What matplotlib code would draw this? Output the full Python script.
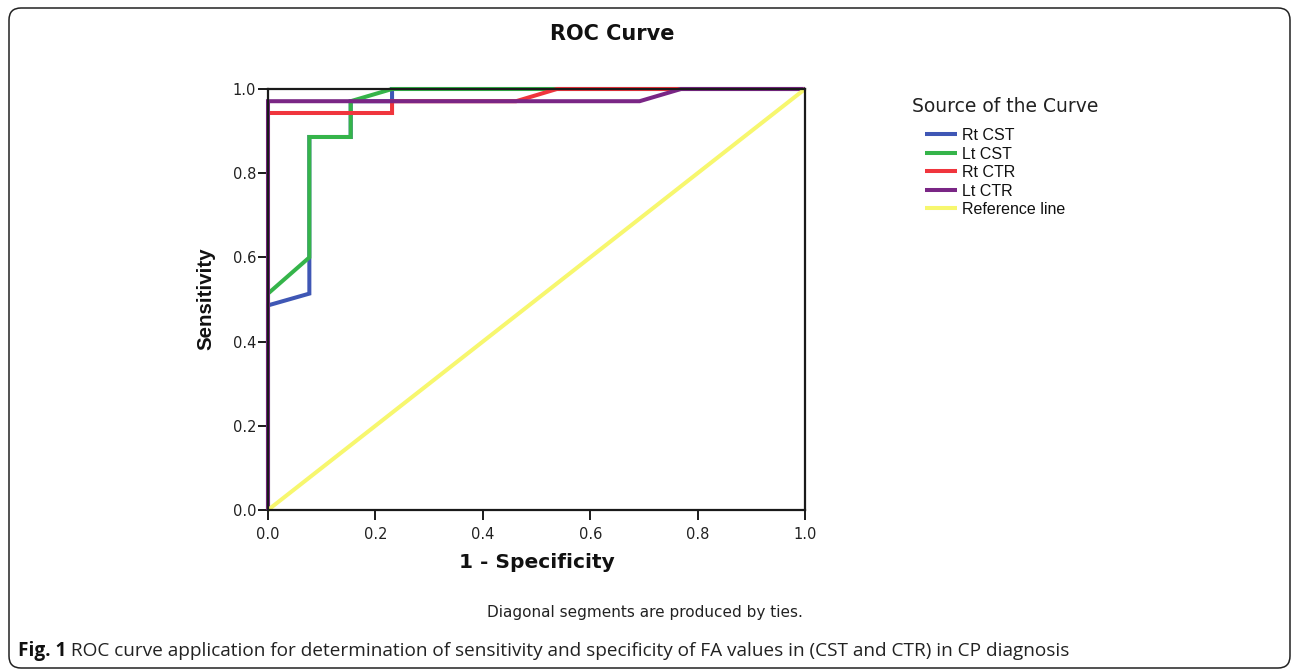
import numpy as np
import matplotlib
matplotlib.use('Agg')
import matplotlib.pyplot as plt
from matplotlib.patches import FancyBboxPatch
from matplotlib.transforms import IdentityTransform

# ROC points (1 - specificity, sensitivity)
rt_cst_fpr = [0.0, 0.0, 0.077, 0.077, 0.154, 0.154, 0.231, 0.231, 1.0]
rt_cst_tpr = [0.0, 0.486, 0.514, 0.886, 0.886, 0.971, 0.971, 1.0, 1.0]

lt_cst_fpr = [0.0, 0.0, 0.077, 0.077, 0.154, 0.154, 0.231, 1.0]
lt_cst_tpr = [0.0, 0.514, 0.600, 0.886, 0.886, 0.971, 1.0, 1.0]

rt_ctr_fpr = [0.0, 0.0, 0.231, 0.231, 0.462, 0.538, 1.0]
rt_ctr_tpr = [0.0, 0.943, 0.943, 0.971, 0.971, 1.0, 1.0]

lt_ctr_fpr = [0.0, 0.0, 0.692, 0.769, 1.0]
lt_ctr_tpr = [0.0, 0.971, 0.971, 1.0, 1.0]

ref_x = [0.0, 1.0]
ref_y = [0.0, 1.0]

labels = ['Rt CST', 'Lt CST', 'Rt CTR', 'Lt CTR', 'Reference line']
colors = ['#3f57b5', '#35b44a', '#f0353d', '#7a2685', '#f7f76e']
ticks = [0.0, 0.2, 0.4, 0.6, 0.8, 1.0]

W, H = 1292, 670


def fx(px):
    return px / W


def fy(py):
    return 1 - py / H


fig = plt.figure(figsize=(W / 100, H / 100), dpi=100)

# rounded frame around the whole figure
frame = FancyBboxPatch((9, 2), 1281, 660, boxstyle='round,pad=0,rounding_size=12',
                       transform=IdentityTransform(), fill=False,
                       edgecolor='#222222', linewidth=1.1)
fig.patches.append(frame)

ax = fig.add_axes([fx(268), fy(510), (805 - 268) / W, (510 - 89) / H])

lw = 2.9
series = [(rt_cst_fpr, rt_cst_tpr), (lt_cst_fpr, lt_cst_tpr),
          (rt_ctr_fpr, rt_ctr_tpr), (lt_ctr_fpr, lt_ctr_tpr), (ref_x, ref_y)]
handles = []
for (xs, ys), c, lab in zip(series, colors, labels):
    ln, = ax.plot(xs, ys, color=c, lw=lw, label=lab, clip_on=False,
                  solid_capstyle='butt', solid_joinstyle='miter', zorder=2)
    handles.append(ln)

ax.set_xlim(0, 1)
ax.set_ylim(0, 1)
ax.set_xticks(ticks)
ax.set_yticks(ticks)
ax.set_xticklabels(['%.1f' % t for t in ticks])
ax.set_yticklabels(['%.1f' % t for t in ticks])
for s in ax.spines.values():
    s.set_linewidth(1.6)
    s.set_color('#1a1a1a')
    s.set_zorder(3)
ax.tick_params(axis='both', direction='out', length=7, width=1.4,
               color='#1a1a1a', labelsize=10.5, labelcolor='#222222')
ax.tick_params(axis='x', pad=5)
ax.tick_params(axis='y', pad=1.5)
for t in ax.get_xticklabels() + ax.get_yticklabels():
    t.set_family('DejaVu Sans')

fig.text(fx(612), fy(34), 'ROC Curve', ha='center', va='center',
         family='DejaVu Sans', fontweight='bold', fontsize=15, color='#111111')
fig.text(fx(537), fy(563), '1 - Specificity', ha='center', va='center',
         family='DejaVu Sans', fontweight='bold', fontsize=14.5, color='#111111')
fig.text(fx(206), fy(299), 'Sensitivity', ha='center', va='center', rotation=90,
         family='Liberation Sans', fontweight='bold', fontsize=14.8, color='#111111')

# legend
fig.text(fx(912), fy(106), 'Source of the Curve', ha='left', va='center',
         family='DejaVu Sans', fontsize=13.5, color='#222222')
leg = fig.legend(handles=handles, labels=labels, loc='upper left',
                 bbox_to_anchor=(fx(925), fy(128)), frameon=False,
                 borderpad=0, borderaxespad=0, handlelength=2.0,
                 handletextpad=0.3, labelspacing=0.22,
                 prop={'family': 'Liberation Sans', 'size': 11.5})
for t in leg.get_texts():
    t.set_color('#111111')

fig.text(fx(645), fy(612), 'Diagonal segments are produced by ties.',
         ha='center', va='center', family='DejaVu Sans', fontsize=11,
         color='#222222')

# caption, sized to span the same width as the original
renderer = fig.canvas.get_renderer()
cap_rest = ' ROC curve application for determination of sensitivity and specificity of FA values in (CST and CTR) in CP diagnosis'
size = 12
t1 = fig.text(fx(18), fy(651), 'Fig. 1', ha='left', va='center',
              family='Open Sans', fontweight='bold', fontsize=size, color='#111111')
b1 = t1.get_window_extent(renderer)
t2 = fig.text(b1.x1 / W, fy(651), cap_rest, ha='left', va='center',
              family='Open Sans', fontsize=size, color='#222222')
b2 = t2.get_window_extent(renderer)
scale = (1065 - 18) / (b2.x1 - b1.x0)
size = size * scale
t1.set_fontsize(size)
t2.set_fontsize(size)
b1 = t1.get_window_extent(renderer)
t2.set_x(b1.x1 / W)

plt.savefig('out.png', dpi=100)
